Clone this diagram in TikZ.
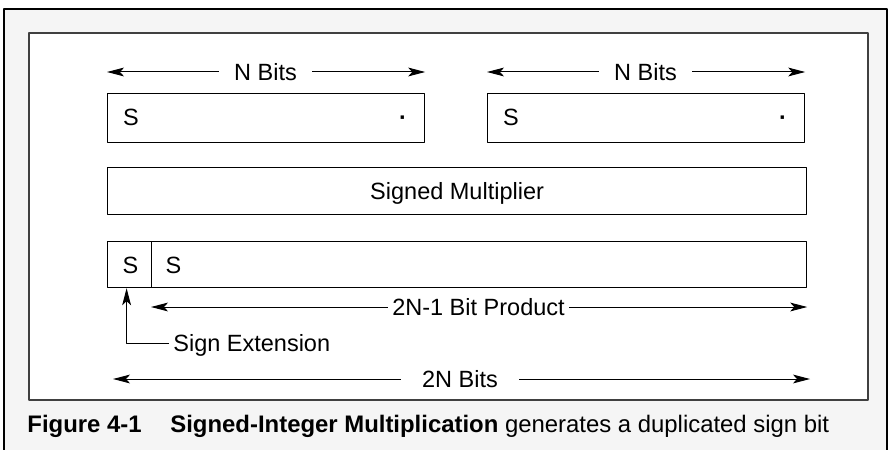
\documentclass[tikz,border=0pt]{standalone}
\usepackage{fontspec}
\setmainfont{Liberation Sans}
\usetikzlibrary{arrows.meta,positioning}

\tikzset{
  bitbox/.style={draw, line width=0.6pt, anchor=north west, inner sep=0pt},
  lbl/.style={inner sep=1pt},
  dim/.style={->, line width=0.5pt},
}

\begin{document}
\begin{tikzpicture}[x=0.5pt, y=-0.5pt, font=\fontsize{11.75}{14}\selectfont, line join=round, >={Stealth[length=8.5pt,width=4.4pt,inset=2pt]}]
	\useasboundingbox (0,0) rectangle (892,449);
	% frames
	\draw[line width=1.1pt, fill=black!4] (4,9) rectangle (887,460);
	\draw[line width=0.8pt, draw=black!75, fill=white] (29,33) rectangle (868,400);
	% operands
	\node[bitbox, minimum width=158.5pt, minimum height=24.5pt] (opa) at (107,93) {};
	\node[bitbox, minimum width=158.5pt, minimum height=24.5pt] (opb) at (487,93) {};
	\node[lbl, anchor=base] (sa) at (131,126) {S};
	\node[lbl, anchor=base] (pa) at (403,126) {\bfseries ·};
	\node[lbl, anchor=base] (sb) at (511,126) {S};
	\node[lbl, anchor=base] (pb) at (783,126) {\bfseries ·};
	\node[lbl, inner xsep=7.5pt] (nba) at (265.5,72) {N Bits};
	\node[lbl, inner xsep=7.5pt] (nbb) at (645.5,72) {N Bits};
	\draw[dim] (nba.west) -- (opa.west |- nba.west);
	\draw[dim] (nba.east) -- (opa.east |- nba.east);
	\draw[dim] (nbb.west) -- (opb.west |- nbb.west);
	\draw[dim] (nbb.east) -- (opb.east |- nbb.east);
	% multiplier
	\node[bitbox, minimum width=349.5pt, minimum height=23.5pt, text depth=0pt] (mult) at (107,167) {Signed Multiplier};
	% product
	\node[bitbox, minimum width=22pt, minimum height=23pt] (ext) at (107,241) {};
	\node[bitbox, minimum width=327.5pt, minimum height=23pt] (prod) at (151,241) {};
	\node[lbl, anchor=base] (se) at (130.5,273) {S};
	\node[lbl, anchor=base] (sp) at (173.5,273) {S};
	\node[lbl, inner xsep=2pt] (npr) at (478.5,307) {2N-1 Bit Product};
	\draw[dim] (npr.west) -- (prod.west |- npr.west);
	\draw[dim] (npr.east) -- (prod.east |- npr.east);
	\node[lbl, anchor=west, inner xsep=2pt, text depth=0pt] (sx) at (169,343) {Sign Extension};
	\draw[dim] (sx.west) -| ([xshift=-1.5pt]ext.south);
	% full width
	\coordinate (tl) at (113,379);
	\coordinate (tr) at (810,379);
	\node[lbl, inner xsep=10.5pt] (nn) at (460,379) {2N Bits};
	\draw[dim] (nn.west) -- (tl);
	\draw[dim] (nn.east) -- (tr);
	% caption
	\node[lbl, anchor=base west, font=\fontsize{11.95}{14}\selectfont\bfseries] (fig) at (25,432) {Figure 4-1};
	\node[lbl, anchor=base west, font=\fontsize{11.95}{14}\selectfont] (cap) at (168,432) {\textbf{Signed-Integer Multiplication} generates a duplicated sign bit};
\end{tikzpicture}
\end{document}
